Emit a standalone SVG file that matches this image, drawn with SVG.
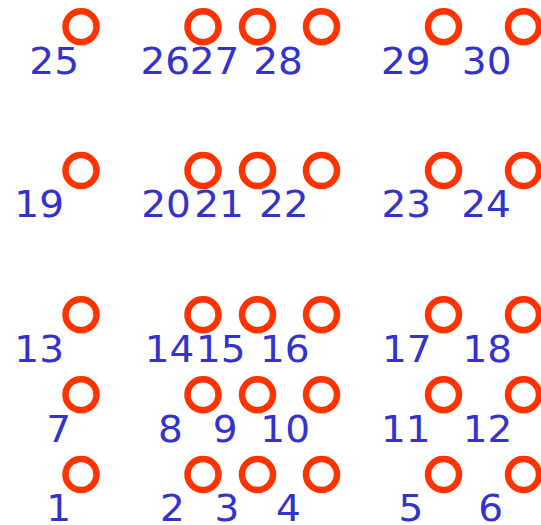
<svg xmlns="http://www.w3.org/2000/svg" width="541" height="525" viewBox="0 0 541 525">
<style>
circle{fill:none;stroke:#ff3300;stroke-width:6.5}
text{font-family:"DejaVu Sans",Verdana,sans-serif;font-size:36.5px;fill:#3333cc;text-anchor:middle}
</style>
<rect width="541" height="525" fill="#ffffff"/>
<g id="connectors"/>
<g id="n1"><circle cx="81" cy="474.5" r="15.5"/><text transform="translate(58.7,521.3) scale(1.07,1)">1</text></g>
<g id="n2"><circle cx="203" cy="474.5" r="15.5"/><text transform="translate(172.5,521.3) scale(1.07,1)">2</text></g>
<g id="n3"><circle cx="257.5" cy="474.5" r="15.5"/><text transform="translate(227,521.3) scale(1.07,1)">3</text></g>
<g id="n4"><circle cx="321.5" cy="474.5" r="15.5"/><text transform="translate(288.5,521.3) scale(1.07,1)">4</text></g>
<g id="n5"><circle cx="443.5" cy="474.5" r="15.5"/><text transform="translate(411,521.3) scale(1.07,1)">5</text></g>
<g id="n6"><circle cx="523.5" cy="474.5" r="15.5"/><text transform="translate(490.7,521.3) scale(1.07,1)">6</text></g>
<g id="n7"><circle cx="81" cy="394.7" r="15.5"/><text transform="translate(58.7,441.5) scale(1.07,1)">7</text></g>
<g id="n8"><circle cx="203" cy="394.7" r="15.5"/><text transform="translate(170.3,441.5) scale(1.07,1)">8</text></g>
<g id="n9"><circle cx="257.5" cy="394.7" r="15.5"/><text transform="translate(225.2,441.5) scale(1.07,1)">9</text></g>
<g id="n10"><circle cx="321.5" cy="394.7" r="15.5"/><text transform="translate(285.2,441.5) scale(1.07,1)">10</text></g>
<g id="n11"><circle cx="443.5" cy="394.7" r="15.5"/><text transform="translate(405.8,441.5) scale(1.07,1)">11</text></g>
<g id="n12"><circle cx="523.5" cy="394.7" r="15.5"/><text transform="translate(487.5,441.5) scale(1.07,1)">12</text></g>
<g id="n13"><circle cx="81" cy="314.7" r="15.5"/><text transform="translate(39.2,361.5) scale(1.07,1)">13</text></g>
<g id="n14"><circle cx="203" cy="314.7" r="15.5"/><text transform="translate(169.5,361.5) scale(1.07,1)">14</text></g>
<g id="n15"><circle cx="257.5" cy="314.7" r="15.5"/><text transform="translate(220.8,361.5) scale(1.07,1)">15</text></g>
<g id="n16"><circle cx="321.5" cy="314.7" r="15.5"/><text transform="translate(284.8,361.5) scale(1.07,1)">16</text></g>
<g id="n17"><circle cx="443.5" cy="314.7" r="15.5"/><text transform="translate(406.8,361.5) scale(1.07,1)">17</text></g>
<g id="n18"><circle cx="523.5" cy="314.7" r="15.5"/><text transform="translate(487.3,361.5) scale(1.07,1)">18</text></g>
<g id="n19"><circle cx="81" cy="170.5" r="15.5"/><text transform="translate(39.2,217.3) scale(1.07,1)">19</text></g>
<g id="n20"><circle cx="203" cy="170.5" r="15.5"/><text transform="translate(166,217.3) scale(1.07,1)">20</text></g>
<g id="n21"><circle cx="257.5" cy="170.5" r="15.5"/><text transform="translate(219,217.3) scale(1.07,1)">21</text></g>
<g id="n22"><circle cx="321.5" cy="170.5" r="15.5"/><text transform="translate(283.8,217.3) scale(1.07,1)">22</text></g>
<g id="n23"><circle cx="443.5" cy="170.5" r="15.5"/><text transform="translate(406.3,217.3) scale(1.07,1)">23</text></g>
<g id="n24"><circle cx="523.5" cy="170.5" r="15.5"/><text transform="translate(486,217.3) scale(1.07,1)">24</text></g>
<g id="n25"><circle cx="81" cy="26.7" r="15.5"/><text transform="translate(54.2,73.5) scale(1.07,1)">25</text></g>
<g id="n26"><circle cx="203" cy="26.7" r="15.5"/><text transform="translate(165.3,73.5) scale(1.07,1)">26</text></g>
<g id="n27"><circle cx="257.5" cy="26.7" r="15.5"/><text transform="translate(214.5,73.5) scale(1.07,1)">27</text></g>
<g id="n28"><circle cx="321.5" cy="26.7" r="15.5"/><text transform="translate(278,73.5) scale(1.07,1)">28</text></g>
<g id="n29"><circle cx="443.5" cy="26.7" r="15.5"/><text transform="translate(405.8,73.5) scale(1.07,1)">29</text></g>
<g id="n30"><circle cx="523.5" cy="26.7" r="15.5"/><text transform="translate(486.7,73.5) scale(1.07,1)">30</text></g>
</svg>
